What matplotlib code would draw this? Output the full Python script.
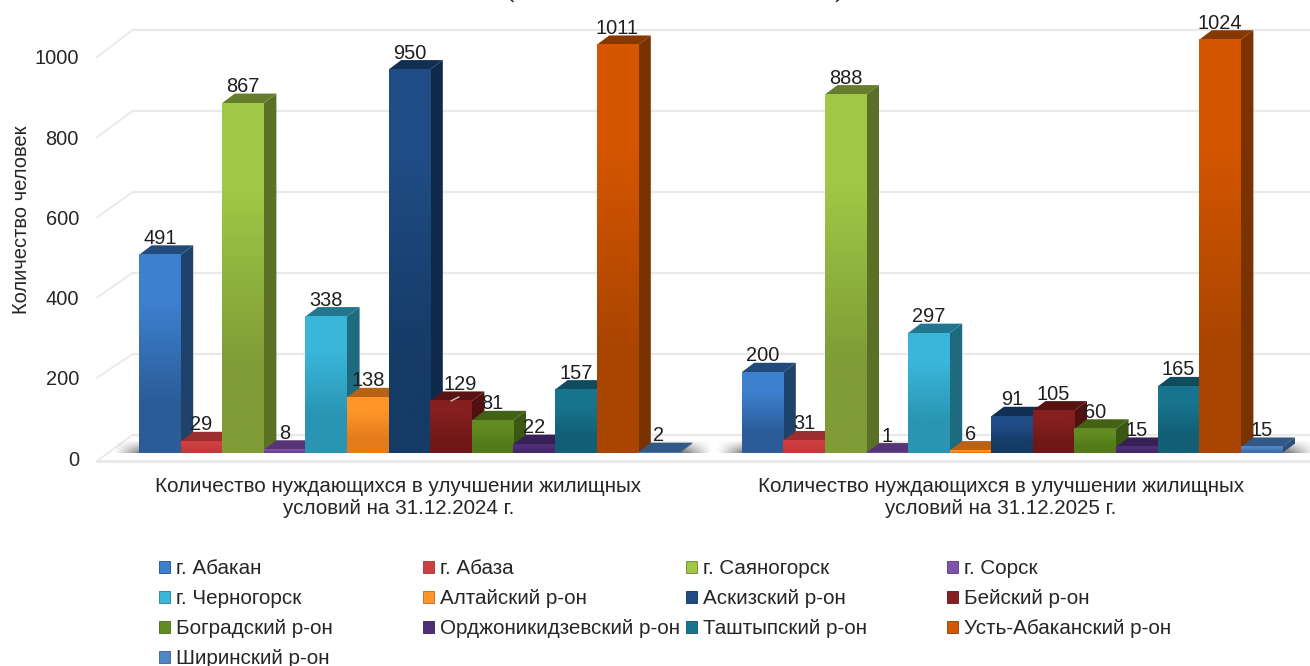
import numpy as np
import matplotlib
matplotlib.use("Agg")
import matplotlib.pyplot as plt
from matplotlib.colors import to_rgb
from matplotlib.patches import Patch, Polygon

plt.rcParams['font.family'] = ['Liberation Sans', 'DejaVu Sans']

W, H = 1310, 666

categories = ["Количество нуждающихся в улучшении жилищных\nусловий на 31.12.2024 г.",
              "Количество нуждающихся в улучшении жилищных\nусловий на 31.12.2025 г."]
districts = ["г. Абакан", "г. Абаза", "г. Саяногорск", "г. Сорск", "г. Черногорск",
             "Алтайский р-он", "Аскизский р-он", "Бейский р-он", "Боградский р-он",
             "Орджоникидзевский р-он", "Таштыпский р-он", "Усть-Абаканский р-он", "Ширинский р-он"]
values_2024 = [491, 29, 867, 8, 338, 138, 950, 129, 81, 22, 157, 1011, 2]
values_2025 = [200, 31, 888, 1, 297, 6, 91, 105, 60, 15, 165, 1024, 15]
yticks = [0, 200, 400, 600, 800, 1000]
colors_top = ["#3d80cf", "#cf3f40", "#a0c846", "#7d52a8", "#39b6da", "#ff9429", "#1f4c84",
              "#861f1f", "#628c22", "#4f2f78", "#18748e", "#d55600", "#4f86c8"]
colors_bottom = ["#2b5c98", "#c23a3c", "#7f9c36", "#6a4292", "#2a94b2", "#e57c1c", "#153b66",
                 "#701818", "#527a1a", "#43286a", "#125f76", "#a94500", "#3f6ea8"]

BAR_PX = 41.6
X0_PX = 139.0
GROUP_GAP = (741.6 - 139.0) / BAR_PX
K_BAR = 0.4036
K_TICK = 0.401
LEFT_PX = 97.0
xlim = ((LEFT_PX - X0_PX) / BAR_PX, (W - X0_PX) / BAR_PX)
DX = 12.6 / BAR_PX
DY = 9.5 / K_BAR


def axes_rect(top_px, bottom_px):
    return [LEFT_PX / W, 1 - bottom_px / H, (W - LEFT_PX) / W, (bottom_px - top_px) / H]


fig = plt.figure(figsize=(W / 100, H / 100), dpi=100, facecolor="white")

# frame: walls, floor, value axis
fr = fig.add_axes(axes_rect(0, 458), zorder=1)
fr.set_xlim(xlim)
fr.set_ylim(0, 458 / K_TICK)
fr.patch.set_visible(False)
for s in fr.spines.values():
    s.set_visible(False)
fr.set_xticks([])
fr.set_yticks(yticks)
fr.tick_params(axis='y', length=0, pad=13, labelsize=14.4, labelcolor="#262626")
fr.set_ylabel("Количество человек", fontsize=14.5, color="#262626")
fr.yaxis.set_label_coords((31 - LEFT_PX) / (W - LEFT_PX), 1 - 220 / 458)

GRID = "#e9e9ea"
depth = 35.5 / BAR_PX
rise = 23 / K_TICK
wall_scale = 1.01
for v in yticks:
    wall = rise + v * wall_scale
    front = v if v else -7.5
    fr.plot([xlim[0], xlim[0] + depth], [front, wall], color=GRID, lw=1.3, clip_on=False, zorder=1)
    fr.plot([xlim[0] + depth, xlim[1]], [wall, wall], color=GRID, lw=1.6, clip_on=False, zorder=1)
fr.plot(xlim, [-7.5, -7.5], color=GRID, lw=2.0, clip_on=False, zorder=1)

# bars
ax = fig.add_axes(axes_rect(0, 453), zorder=2)
ax.patch.set_visible(False)
for s in ax.spines.values():
    s.set_visible(False)
ax.set_yticks([])


def shadow(x_left, x_right):
    nx, ny = 300, 40
    u = np.linspace(0, 1, nx)
    horiz = np.clip(np.minimum(u, 1 - u) / 0.045, 0, 1) ** 1.1
    vert = np.linspace(0, 1, ny) ** 1.0
    a = 0.78 * vert[:, None] * horiz[None, :]
    img = np.zeros((ny, nx, 4))
    img[..., :3] = 0.33
    img[..., 3] = a
    ax.imshow(img, extent=[x_left, x_right, 0, 13 / K_BAR], origin='upper', aspect='auto',
              zorder=1.5, interpolation='bilinear')


def shade(c, f):
    return tuple(min(1, x * f) for x in to_rgb(c))


def draw_group(vals, start, z, nudge_px=None):
    nudge_px = nudge_px or {}
    shadow(start - 0.62, start + 13.8)
    for i, v in enumerate(vals):
        x = start + i
        zz = z + i * 0.01
        side = shade(colors_bottom[i], 0.72)
        roof = shade(colors_bottom[i], 0.8)
        ax.add_patch(Polygon([(x + 1, 0), (x + 1, v), (x + 1 + DX, v + DY), (x + 1 + DX, DY)],
                             closed=True, fc=side, ec='none', zorder=zz))
        ax.add_patch(Polygon([(x, v), (x + 1, v), (x + 1 + DX, v + DY), (x + DX, v + DY)],
                             closed=True, fc=roof, ec='none', zorder=zz + 0.001))
        grad = np.array([[to_rgb(colors_top[i])], [to_rgb(colors_bottom[i])]])
        ax.imshow(grad, extent=[x, x + 1, 0, v], origin='upper', aspect='auto',
                  interpolation='bilinear', zorder=zz + 0.002)
        shift = nudge_px.get(i, 0)
        ax.annotate(str(v), (x + 0.5, v), xytext=(shift * 0.72, 16.5 * 0.72), textcoords='offset points',
                    ha='center', va='center', fontsize=14.4, color="#1f1f1f", zorder=10,
                    annotation_clip=False)
        if shift:
            # leader line the chart draws for a moved label
            ax.annotate("", (x + 0.5, v), xytext=(8 * 0.72, 4 * 0.72), textcoords='offset points',
                        arrowprops=dict(arrowstyle='-', color="#c4c4c4", lw=1, shrinkA=0, shrinkB=0),
                        zorder=9, annotation_clip=False)


draw_group(values_2024, 0, 3, nudge_px={7: 9})
draw_group(values_2025, GROUP_GAP, 3.5)

ax.set_xlim(xlim)
ax.set_ylim(0, 453 / K_BAR)
ax.set_xticks([6.5 - 0.27, GROUP_GAP + 6.5 - 0.27])
ax.set_xticklabels(categories, fontsize=14.9, color="#262626", linespacing=1.2)
ax.tick_params(axis='x', length=0, pad=17)

# clipped title remnant at the very top of the picture
fig.text(675 / W, 1 + 1.5 / H, "(" + " " * 57 + ")", fontfamily="Liberation Serif", fontweight='bold',
         fontsize=16, ha='center', va='baseline', color="#111111")

# legend, one block per column
n_cols = 4
col_px = [159, 423, 686, 947]
for c in range(n_cols):
    idx = list(range(c, len(districts), n_cols))
    handles = [Patch(fc=colors_top[i], ec=shade(colors_bottom[i], 0.85), lw=0.6, label=districts[i]) for i in idx]
    leg = fig.legend(handles=handles, loc='upper left', bbox_to_anchor=(col_px[c] / W, 1 - 559 / H),
                     bbox_transform=fig.transFigure, frameon=False, fontsize=14.9,
                     borderpad=0, borderaxespad=0, handlelength=0.52, handleheight=0.52,
                     handletextpad=0.315, labelspacing=0.537, labelcolor="#262626")

fig.savefig("out.png", dpi=100, facecolor="white")
